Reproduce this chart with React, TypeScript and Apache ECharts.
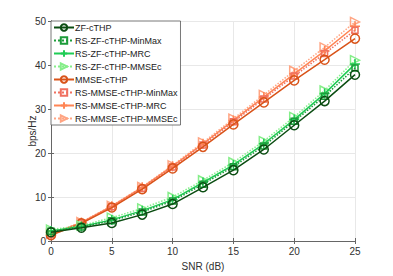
import React, { useEffect, useRef } from "react";
import * as echarts from "echarts";

const snr = [0, 2.5, 5, 7.5, 10, 12.5, 15, 17.5, 20, 22.5, 25];
const seriesNames = [
  "ZF-cTHP",
  "RS-ZF-cTHP-MinMax",
  "RS-ZF-cTHP-MRC",
  "RS-ZF-cTHP-MMSEc",
  "MMSE-cTHP",
  "RS-MMSE-cTHP-MinMax",
  "RS-MMSE-cTHP-MRC",
  "RS-MMSE-cTHP-MMSEc",
];
const zfCthp = [2.0, 3.0, 4.1, 6.0, 8.4, 12.2, 16.1, 20.8, 26.3, 31.8, 37.8];
const rsZfMinMax = [2.2, 3.2, 4.6, 6.6, 9.1, 12.9, 16.9, 21.6, 27.2, 32.9, 39.3];
const rsZfMrc = [2.3, 3.3, 4.8, 6.9, 9.4, 13.3, 17.3, 22.1, 27.6, 33.5, 40.2];
const rsZfMmsec = [2.6, 3.5, 5.3, 7.4, 10.0, 13.8, 17.9, 22.7, 28.2, 34.2, 41.1];
const mmseCthp = [1.3, 4.0, 7.6, 11.8, 16.5, 21.4, 26.5, 31.5, 36.5, 41.2, 46.0];
const rsMmseMinMax = [1.4, 4.1, 7.8, 12.0, 16.8, 21.8, 27.1, 32.3, 37.5, 42.6, 47.9];
const rsMmseMrc = [1.5, 4.2, 7.9, 12.2, 17.0, 22.1, 27.4, 32.7, 38.0, 43.2, 48.8];
const rsMmseMmsec = [1.6, 4.3, 8.0, 12.3, 17.2, 22.4, 27.8, 33.2, 38.7, 44.0, 49.8];
const allValues = [zfCthp, rsZfMinMax, rsZfMrc, rsZfMmsec, mmseCthp, rsMmseMinMax, rsMmseMrc, rsMmseMmsec];
const yAxisTitle = "bps/Hz";
const xAxisTitle = "SNR (dB)";

const colors = ["#0b4d12", "#1c9c3a", "#1fcc55", "#86ee8a", "#d95319", "#f07060", "#ff8555", "#ffa583"];
const lineTypes = ["solid", "dotted", "solid", "dotted", "solid", "dotted", "solid", "dotted"];
const markerKinds = ["circle", "square", "plus", "triangle", "circle", "square", "plus", "triangle"];

const FONT = "Liberation Sans, Arial, Helvetica, sans-serif";

function symbolFor(kind: string) {
  if (kind === "circle") return { symbol: "circle", size: 9 };
  if (kind === "square") return { symbol: "rect", size: 6 };
  if (kind === "plus") return { symbol: "path://M5,0L5,10M0,5L10,5", size: 10 };
  return { symbol: "path://M0,0L10,5L0,10Z", size: 9 };
}

export default function App() {
  const ref = useRef<HTMLDivElement>(null);
  useEffect(() => {
    if (!ref.current) return;
    const chart = echarts.init(ref.current, undefined, { renderer: "svg" });
    const series = seriesNames.map((name, i) => {
      const s = symbolFor(markerKinds[i]);
      const c = colors[i];
      return {
        name,
        type: "line",
        data: snr.map((x, j) => [x, allValues[i][j]]),
        symbol: s.symbol,
        symbolSize: s.size,
        showAllSymbol: true,
        z: 10 - i,
        lineStyle: { color: c, width: 1.5, type: lineTypes[i] },
        itemStyle: {
          color: markerKinds[i] === "plus" ? c : "rgba(255,255,255,0)",
          borderColor: c,
          borderWidth: 1.5,
        },
        emphasis: { disabled: true },
      };
    });
    chart.setOption({
      animation: false,
      backgroundColor: "#ffffff",
      textStyle: { fontFamily: FONT },
      grid: { left: 51, right: 38, top: 21, bottom: 31, containLabel: false },
      graphic: [
        {
          type: "text",
          x: 32,
          y: 131,
          rotation: Math.PI / 2,
          style: {
            text: yAxisTitle,
            fontFamily: FONT,
            fontSize: 10,
            fill: "#303030",
            align: "center",
            verticalAlign: "middle",
          },
        },
      ],
      legend: {
        orient: "vertical",
        left: 51,
        top: 21,
        data: seriesNames,
        itemWidth: 20,
        itemHeight: 8,
        itemGap: 4,
        padding: [2, 3, 2, 2],
        backgroundColor: "#ffffff",
        borderColor: "#555555",
        borderWidth: 0.8,
        textStyle: { fontFamily: FONT, fontSize: 9, color: "#222222", padding: [0, 0, 0, -4] },
        z: 20,
      },
      xAxis: [
        {
          type: "value",
          min: 0,
          max: 25,
          interval: 5,
          name: xAxisTitle,
          nameLocation: "middle",
          nameGap: 20,
          nameTextStyle: { fontFamily: FONT, fontSize: 10, color: "#303030" },
          axisLine: { show: true, lineStyle: { color: "#666666", width: 1 } },
          axisTick: { inside: true, length: 3, lineStyle: { color: "#666666" } },
          axisLabel: { fontFamily: FONT, fontSize: 10, color: "#303030", margin: 5 },
          splitLine: { show: true, lineStyle: { color: "#e8e8e8", width: 1 } },
        },
        {
          type: "value",
          position: "top",
          min: 0,
          max: 25,
          interval: 5,
          axisLine: { show: true, lineStyle: { color: "#666666", width: 1 } },
          axisTick: { inside: true, length: 3, lineStyle: { color: "#666666" } },
          axisLabel: { show: false },
          splitLine: { show: false },
        },
      ],
      yAxis: [
        {
          type: "value",
          min: 0,
          max: 50,
          interval: 10,
          axisLine: { show: true, lineStyle: { color: "#666666", width: 1 } },
          axisTick: { show: true, inside: true, length: 3, lineStyle: { color: "#666666" } },
          axisLabel: { fontFamily: FONT, fontSize: 10, color: "#303030", margin: 5 },
          splitLine: { show: true, lineStyle: { color: "#e8e8e8", width: 1 } },
        },
        {
          type: "value",
          position: "right",
          min: 0,
          max: 50,
          interval: 10,
          axisLine: { show: true, lineStyle: { color: "#666666", width: 1 } },
          axisTick: { show: true, inside: true, length: 3, lineStyle: { color: "#666666" } },
          axisLabel: { show: false },
          splitLine: { show: false },
        },
      ],
      series,
    });
    return () => chart.dispose();
  }, []);
  return (
    <div
      ref={ref}
      style={{ position: "fixed", left: 0, top: 0, width: 393, height: 276, background: "#fff" }}
    />
  );
}
